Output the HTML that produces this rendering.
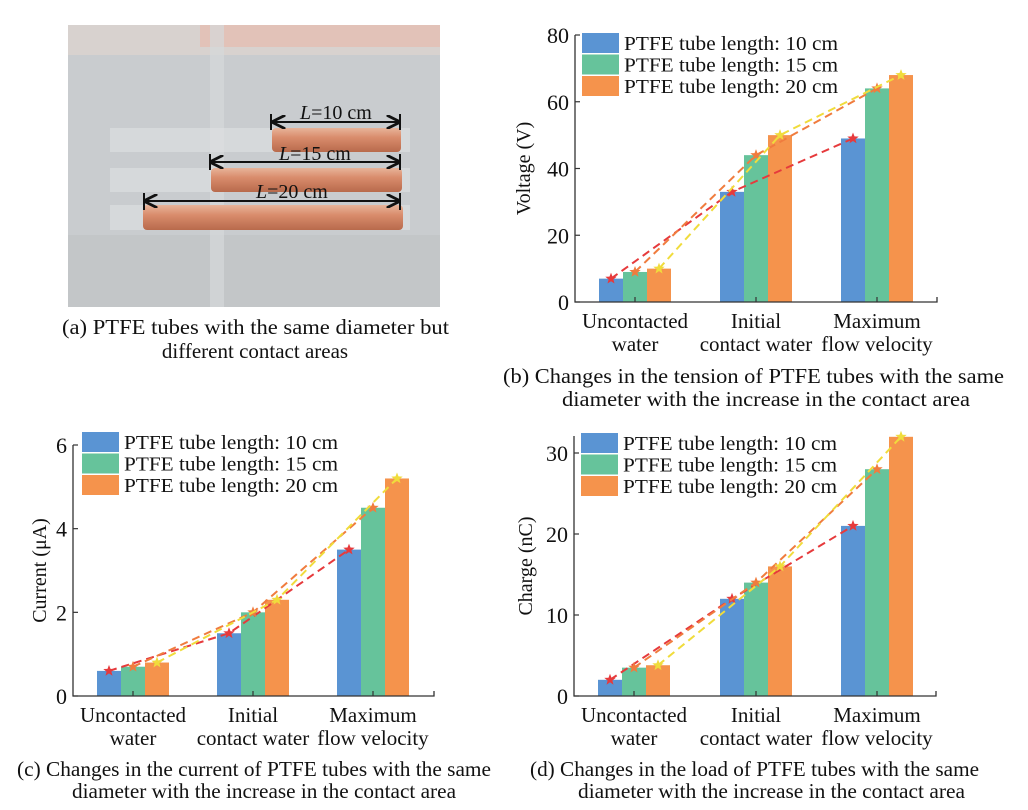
<!DOCTYPE html>
<html><head><meta charset="utf-8">
<style>
body{margin:0;background:#fff;}
svg{display:block;font-family:"Liberation Serif",serif;}
</style></head>
<body>
<svg id="fig" width="1028" height="810" viewBox="0 0 1028 810" xmlns="http://www.w3.org/2000/svg">
<defs>
<linearGradient id="cu" x1="0" y1="0" x2="0" y2="1">
<stop offset="0" stop-color="#e8b49a"/><stop offset="0.4" stop-color="#d98c6c"/><stop offset="1" stop-color="#b86a4c"/>
</linearGradient>
<marker id="ar" viewBox="0 0 10 10" refX="9" refY="5" markerWidth="7" markerHeight="7" orient="auto-start-reverse"><path d="M0,0 L10,5 L0,10" fill="none" stroke="#111" stroke-width="2"/></marker>
</defs>
<g>
<rect x="68" y="25" width="372" height="282" fill="#c9cccf"/>
<rect x="68" y="25" width="372" height="30" fill="#d8d2cf"/>
<rect x="200" y="25" width="240" height="22" fill="#e2c2b8"/>
<rect x="68" y="235" width="372" height="72" fill="#c3c6c8"/>
<rect x="210" y="25" width="14" height="282" fill="#d6d8da" opacity="0.7"/>
<rect x="110" y="128" width="300" height="24" fill="#dfe1e3" opacity="0.6"/>
<rect x="110" y="168" width="300" height="24" fill="#dfe1e3" opacity="0.6"/>
<rect x="110" y="205" width="300" height="25" fill="#dfe1e3" opacity="0.6"/>
<rect x="272" y="128" width="129" height="24" rx="4" fill="url(#cu)"/>
<rect x="211" y="168" width="191" height="24" rx="4" fill="url(#cu)"/>
<rect x="143" y="205" width="260" height="25" rx="4" fill="url(#cu)"/>
<g stroke="#111" stroke-width="2">
<line x1="273" y1="122" x2="399" y2="122" marker-start="url(#ar)" marker-end="url(#ar)"/>
<line x1="271" y1="114" x2="271" y2="130"/><line x1="400" y1="114" x2="400" y2="130"/>
<line x1="211" y1="162" x2="399" y2="162" marker-start="url(#ar)" marker-end="url(#ar)"/>
<line x1="210" y1="154" x2="210" y2="170"/><line x1="400" y1="154" x2="400" y2="170"/>
<line x1="145" y1="201" x2="399" y2="201" marker-start="url(#ar)" marker-end="url(#ar)"/>
<line x1="144" y1="193" x2="144" y2="210"/><line x1="400" y1="193" x2="400" y2="210"/>
</g>
<g font-size="20" fill="#111">
<text x="300" y="119"><tspan font-style="italic">L</tspan>=10 cm</text>
<text x="279" y="160"><tspan font-style="italic">L</tspan>=15 cm</text>
<text x="256" y="198"><tspan font-style="italic">L</tspan>=20 cm</text>
</g>
</g>
<g font-size="21" fill="#111">
<text x="62" y="334" textLength="387" lengthAdjust="spacingAndGlyphs">(a) PTFE tubes with the same diameter but</text>
<text x="255" y="358" text-anchor="middle">different contact areas</text>
<text x="503" y="383" textLength="501" lengthAdjust="spacingAndGlyphs">(b) Changes in the tension of PTFE tubes with the same</text>
<text x="562" y="406" textLength="408" lengthAdjust="spacingAndGlyphs">diameter with the increase in the contact area</text>
<text x="17" y="776" textLength="474" lengthAdjust="spacingAndGlyphs">(c) Changes in the current of PTFE tubes with the same</text>
<text x="72" y="798" textLength="384" lengthAdjust="spacingAndGlyphs">diameter with the increase in the contact area</text>
<text x="530" y="776" textLength="449" lengthAdjust="spacingAndGlyphs">(d) Changes in the load of PTFE tubes with the same</text>
<text x="578" y="798" textLength="387" lengthAdjust="spacingAndGlyphs">diameter with the increase in the contact area</text>
</g>
</svg>
<script>
const categories = [["Uncontacted","water"],["Initial","contact water"],["Maximum","flow velocity"]];
const seriesNames = ["PTFE tube length: 10 cm","PTFE tube length: 15 cm","PTFE tube length: 20 cm"];
const voltage10 = [7,33,49];
const voltage15 = [9,44,64];
const voltage20 = [10,50,68];
const voltageTicks = [0,20,40,60,80];
const current10 = [0.6,1.5,3.5];
const current15 = [0.7,2.0,4.5];
const current20 = [0.8,2.3,5.2];
const currentTicks = [0,2,4,6];
const charge10 = [2,12,21];
const charge15 = [3.5,14,28];
const charge20 = [3.8,16,32];
const chargeTicks = [0,10,20,30];

const NS="http://www.w3.org/2000/svg";
const svg=document.getElementById('fig');
const barCol=["#5a94d3","#66c39b","#f5934c"];
const lineCol=["#e63a3c","#f07c3e","#f0dc3c"];
function mk(tag,attrs,parent){const e=document.createElementNS(NS,tag);for(const k in attrs)e.setAttribute(k,attrs[k]);(parent||svg).appendChild(e);return e;}
function star(cx,cy,r,col,parent){let p="";for(let i=0;i<10;i++){const a=-Math.PI/2+i*Math.PI/5;const rr=i%2?r*0.42:r;p+=(i?"L":"M")+(cx+rr*Math.cos(a)).toFixed(1)+","+(cy+rr*Math.sin(a)).toFixed(1);}const s=mk('path',{d:p+"Z",fill:col},parent);}

function chart(cfg){
  const g=mk('g',{});
  
  
  const L=cfg.left,R=cfg.right,B=cfg.bottom,Tv=cfg.topPx;
  const y=v=>B-(v-0)/(cfg.vRef)*(B-cfg.refPx);
  const centers=cfg.centers;
  const bw=24;
  const series=cfg.series;
  series.forEach((s,si)=>{
    s.forEach((v,ci)=>{
      const x=centers[ci]+(si-1)*bw-bw/2;
      const r=mk('rect',{x:x,y:y(v),width:bw,height:B-y(v),fill:barCol[si]},g);
      
      
    });
  });
  series.forEach((s,si)=>{
    const pts=s.map((v,ci)=>[centers[ci]+(si-1)*bw,y(v)]);
    const pl=mk('polyline',{points:pts.map(p=>p.join(',')).join(' '),fill:'none',stroke:lineCol[si],'stroke-width':2,'stroke-dasharray':'8,5'},g);
    
    
    pts.forEach(p=>star(p[0],p[1],6,lineCol[si],g));
  });
  const ax=mk('path',{d:`M${L},${Tv} L${L},${B} L${R},${B} L${R},${B-5}`,fill:'none',stroke:'#333','stroke-width':1.3},g);
  
  
  cfg.ticks.forEach(t=>{
    mk('line',{x1:L,x2:L+5,y1:y(t),y2:y(t),stroke:'#333','stroke-width':1.2},g);
    const tx=mk('text',{x:L-6,y:y(t)+8,'text-anchor':'end','font-size':22,fill:'#111'},g);
    tx.textContent=t;
    
    
  });
  categories.forEach((c,ci)=>{
    mk('line',{x1:centers[ci],x2:centers[ci],y1:B,y2:B-5,stroke:'#333','stroke-width':1.2},g);
    c.forEach((ln,li)=>{
      const tx=mk('text',{x:centers[ci],y:B+26+li*23,'text-anchor':'middle','font-size':21,fill:'#111'},g);
      tx.textContent=ln;
      
      
    });
  });
  const yt=mk('text',{transform:`translate(${cfg.titleX},${(Tv+B)/2}) rotate(-90)`,'text-anchor':'middle','font-size':20,fill:'#111'},g);
  yt.textContent=cfg.title;
  
  
  seriesNames.forEach((n,i)=>{
    const ry=cfg.legY+i*21.5;
    const sw=mk('rect',{x:cfg.legX,y:ry,width:37,height:20,fill:barCol[i]},g);
    
    
    const lt=mk('text',{x:cfg.legX+42,y:ry+17,'font-size':20,fill:'#111',textLength:214,lengthAdjust:'spacingAndGlyphs'},g);
    lt.textContent=n;
    
    
  });
}
chart({name:'voltage-chart',key:'voltage',left:575,right:937,bottom:302,topPx:35,vRef:80,refPx:35,centers:[635,756,877],series:[voltage10,voltage15,voltage20],ticks:voltageTicks,title:'Voltage (V)',titleX:530,legX:582,legY:33});
chart({name:'current-chart',key:'current',left:73,right:434,bottom:696,topPx:445,vRef:6,refPx:445,centers:[133,253,373],series:[current10,current15,current20],ticks:currentTicks,title:'Current (\u03bcA)',titleX:46,legX:82,legY:432});
chart({name:'charge-chart',key:'charge',left:574,right:936,bottom:696,topPx:436,vRef:30,refPx:453,centers:[634,756,877],series:[charge10,charge15,charge20],ticks:chargeTicks,title:'Charge (nC)',titleX:532,legX:581,legY:433});
</script>
</body></html>
